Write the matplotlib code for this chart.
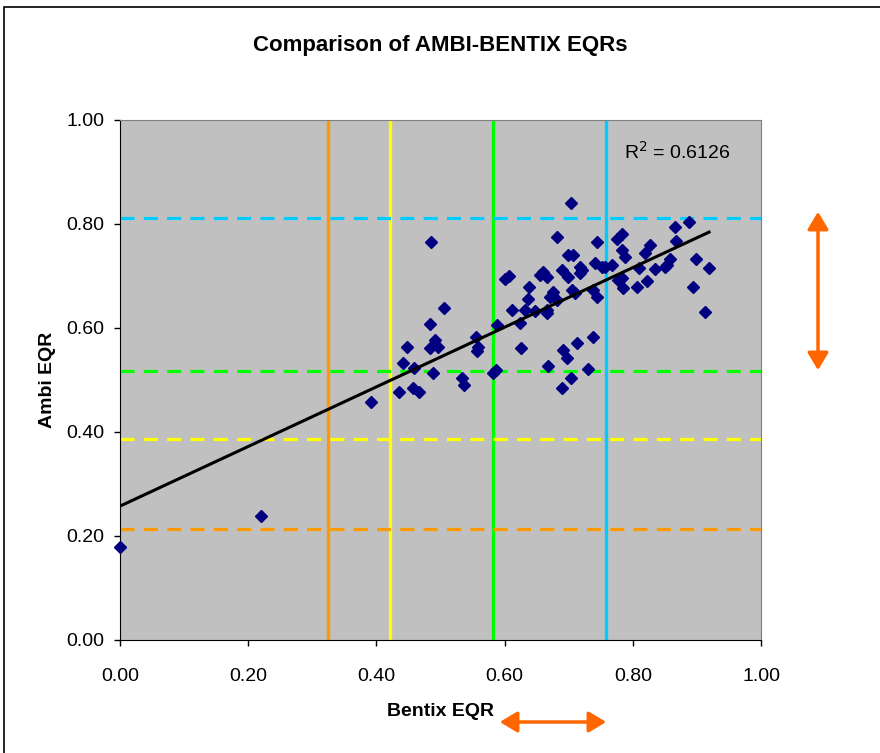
import numpy as np
import matplotlib
matplotlib.use("Agg")
import matplotlib.pyplot as plt
from matplotlib.patches import FancyArrowPatch, Rectangle

plt.rcParams['font.family'] = ['Liberation Sans', 'DejaVu Sans']

# Station EQRs from the two indices
bentix = [0.000, 0.220, 0.392, 0.435, 0.457, 0.466, 0.441, 0.448, 0.459, 0.484,
          0.485, 0.488, 0.491, 0.496, 0.484, 0.505, 0.534, 0.537, 0.555, 0.558,
          0.557, 0.588, 0.587, 0.582, 0.601, 0.607, 0.612, 0.624, 0.626, 0.632,
          0.637, 0.638, 0.647, 0.655, 0.660, 0.666, 0.666, 0.666, 0.668, 0.671,
          0.676, 0.682, 0.682, 0.690, 0.699, 0.704, 0.707, 0.699, 0.718, 0.718,
          0.705, 0.710, 0.691, 0.697, 0.713, 0.704, 0.690, 0.738, 0.730, 0.741,
          0.738, 0.744, 0.744, 0.721, 0.757, 0.768, 0.775, 0.783, 0.783, 0.788,
          0.777, 0.783, 0.785, 0.807, 0.810, 0.819, 0.827, 0.822, 0.835, 0.853,
          0.858, 0.866, 0.867, 0.888, 0.899, 0.919, 0.894, 0.913, 0.752, 0.850]
ambi = [0.179, 0.238, 0.458, 0.477, 0.485, 0.477, 0.533, 0.563, 0.523, 0.608,
        0.765, 0.513, 0.577, 0.563, 0.562, 0.638, 0.504, 0.490, 0.583, 0.563,
        0.556, 0.606, 0.519, 0.513, 0.694, 0.700, 0.635, 0.610, 0.562, 0.635,
        0.656, 0.679, 0.633, 0.702, 0.708, 0.698, 0.635, 0.629, 0.527, 0.660,
        0.669, 0.654, 0.775, 0.712, 0.698, 0.840, 0.740, 0.740, 0.717, 0.706,
        0.673, 0.667, 0.558, 0.542, 0.571, 0.504, 0.485, 0.583, 0.521, 0.725,
        0.673, 0.660, 0.765, 0.712, 0.717, 0.721, 0.771, 0.781, 0.750, 0.737,
        0.692, 0.696, 0.677, 0.679, 0.715, 0.744, 0.760, 0.690, 0.713, 0.721,
        0.733, 0.794, 0.767, 0.804, 0.733, 0.715, 0.679, 0.631, 0.717, 0.717]

# Class boundaries (vertical: Bentix, horizontal: Ambi)
bentix_limits = [0.325, 0.421, 0.582, 0.758]
ambi_limits = [0.213, 0.387, 0.517, 0.811]
limit_colors = ['#FF9900', '#FFFF00', '#00FF00', '#00CCFF']

r2_text = "R$^2$ = 0.6126"

x = np.array(bentix)
y = np.array(ambi)

fig = plt.figure(figsize=(8.8, 7.53), dpi=100)
ax = fig.add_axes([120 / 880, 1 - 640 / 753, 641 / 880, 520 / 753])
ax.set_facecolor('#C0C0C0')

for v, c in zip(bentix_limits, limit_colors):
    ax.axvline(v, color=c, lw=2.4, zorder=1)
for v, c in zip(ambi_limits, limit_colors):
    ax.axhline(v, color=c, lw=2.3, dashes=(4.4, 2.9), zorder=1)

ax.plot(x, y, linestyle='none', marker='D', ms=6.5, color='#000080',
        markeredgecolor='#000080', zorder=3, clip_on=False)

# linear trendline over the data range
slope, intercept = np.polyfit(x, y, 1)
xt = np.linspace(0, x.max(), 50)
ax.plot(xt, slope * xt + intercept, color='black', lw=2.2, zorder=4)

ax.text(0.786, 0.938, r2_text, fontsize=14, va='center', ha='left')

ax.set_xlim(0, 1)
ax.set_ylim(0, 1)
ticks = np.arange(0, 1.01, 0.2)
ax.set_xticks(ticks)
ax.set_yticks(ticks)
ax.set_xticklabels([f"{t:.2f}" for t in ticks], fontsize=14)
ax.set_yticklabels([f"{t:.2f}" for t in ticks], fontsize=14)
ax.tick_params(direction='out', length=4.3, width=1, color='black')
ax.tick_params(axis='x', pad=16)
ax.tick_params(axis='y', pad=7)

for side in ['top', 'right']:
    ax.spines[side].set_color('#808080')
for side in ['left', 'bottom']:
    ax.spines[side].set_color('black')

ax.set_xlabel("Bentix EQR", fontsize=14, fontweight='bold', labelpad=13)
ax.set_ylabel("Ambi EQR", fontsize=14, fontweight='bold', labelpad=7)
fig.text(0.5, 1 - 45 / 753, "Comparison of AMBI-BENTIX EQRs",
         fontsize=16, fontweight='bold', ha='center', va='center')

# orange range arrows beside the axes
arrow_kw = dict(arrowstyle='<|-|>,head_length=0.75,head_width=0.45',
                color='#FF6600', lw=2.5, mutation_scale=14,
                transform=fig.transFigure)
fig.patches.append(FancyArrowPatch((818 / 880, 1 - 209 / 753),
                                   (818 / 880, 1 - 373 / 753), **arrow_kw))
fig.patches.append(FancyArrowPatch((497 / 880, 1 - 722 / 753),
                                   (609 / 880, 1 - 722 / 753), **arrow_kw))

# chart area border
fig.patches.append(Rectangle((4 / 880, -0.01), 1.0, 1 - 7 / 753 + 0.01,
                             transform=fig.transFigure, fill=False,
                             edgecolor='black', lw=1.2))

fig.savefig("out.png", dpi=100)
